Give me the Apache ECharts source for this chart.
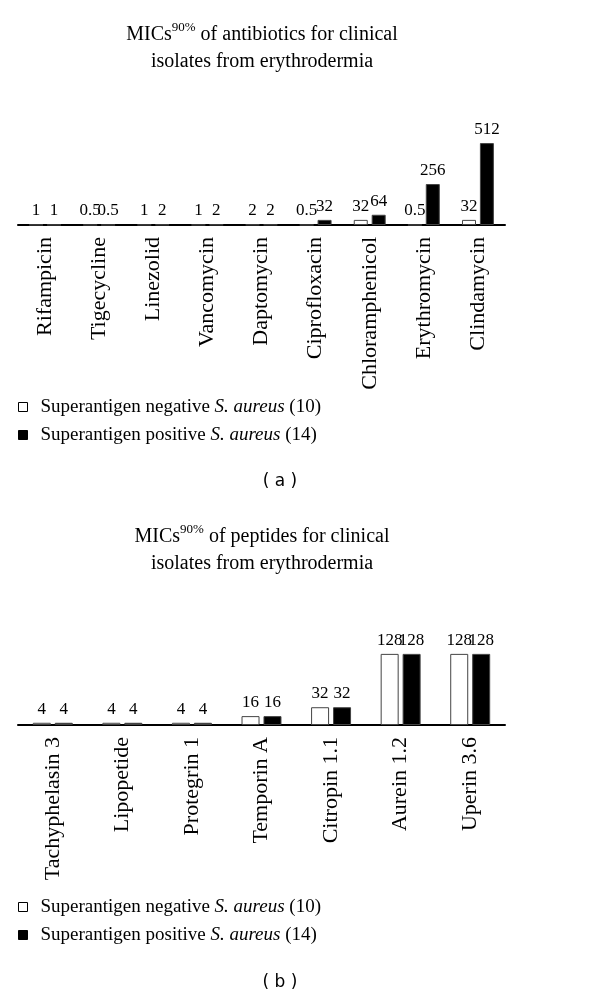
<!DOCTYPE html>
<html><head><meta charset="utf-8">
<script src="https://cdn.jsdelivr.net/npm/echarts@6/dist/echarts.min.js"></script>
<style>html,body{margin:0;padding:0;background:#fff}#c{width:600px;height:998px}</style>
</head><body><div id="c"></div>
<script>
const antibiotics = ['Rifampicin','Tigecycline','Linezolid','Vancomycin','Daptomycin','Ciprofloxacin','Chloramphenicol','Erythromycin','Clindamycin'];
const antibioticNeg = [1,0.5,1,1,2,0.5,32,0.5,32];
const antibioticPos = [1,0.5,2,2,2,32,64,256,512];
const peptides = ['Tachyphelasin 3','Lipopetide','Protegrin 1','Temporin A','Citropin 1.1','Aurein 1.2','Uperin 3.6'];
const peptideNeg = [4,4,4,16,32,128,128];
const peptidePos = [4,4,4,16,32,128,128];
const negName = 'Superantigen negative S. aureus (10)';
const posName = 'Superantigen positive S. aureus (14)';
const titleA = ['MICs','90%',' of antibiotics for clinical','isolates from erythrodermia'];
const titleB = ['MICs','90%',' of peptides for clinical','isolates from erythrodermia'];

const serif = "'Liberation Serif','Times New Roman',serif";
const sans = "'DejaVu Sans','Liberation Sans',sans-serif";

function titleText(t){ return '{m|'+t[0]+'}{s|'+t[1]+'}{m|'+t[2]+'}\n{m|'+t[3]+'}'; }
const titleRich = {
  m:{fontFamily:serif,fontSize:20,fontWeight:'normal',lineHeight:27,color:'#000'},
  s:{fontFamily:serif,fontSize:13,fontWeight:'normal',lineHeight:14,verticalAlign:'top',color:'#000'}
};
function legendFmt(name){
  const m = name.match(/^(.*) S\. aureus (.*)$/);
  return '{n|'+m[1]+' }{i|S. aureus}{n| '+m[2]+'}';
}
function legend(top){
  return {data:[negName,posName], orient:'vertical', left:18, top:top, padding:0, itemGap:8,
    itemWidth:9, itemHeight:9, icon:'rect', formatter:legendFmt,
    itemStyle:{borderColor:'#000',borderWidth:1},
    textStyle:{fontFamily:serif,fontSize:19,color:'#000',lineHeight:20,padding:[0,0,0,8],
      rich:{n:{fontFamily:serif,fontSize:19,color:'#000'}, i:{fontFamily:serif,fontSize:19,fontStyle:'italic',color:'#000'}}}};
}
function bars(name, data, idx, neg, bw, gap){
  return {type:'bar', name:name, data:data, xAxisIndex:idx, yAxisIndex:idx, barWidth:bw, barGap:gap,
    itemStyle:{color: neg ? '#fff' : '#000', borderColor:'#444', borderWidth:1},
    label:{show:true, position:'top', distance:5, color:'#000', fontFamily:serif, fontSize:17}};
}
function xAxis(idx, data){
  return {gridIndex:idx, type:'category', data:data,
    axisLine:{lineStyle:{color:'#000',width:2}}, axisTick:{show:false},
    axisLabel:{rotate:90, margin:12, interval:0, fontFamily:serif, fontSize:22, color:'#000'}};
}
const chart = echarts.init(document.getElementById('c'));
chart.setOption({
  backgroundColor:'#fff',
  animation:false,
  title:[
    {text:titleText(titleA), left:262, top:21, textAlign:'center', padding:0, textStyle:{fontWeight:'normal',rich:titleRich}},
    {text:titleText(titleB), left:262, top:523, textAlign:'center', padding:0, textStyle:{fontWeight:'normal',rich:titleRich}}
  ],
  grid:[
    {left:18, right:95, top:125, height:100},
    {left:18, right:95, top:625, height:100}
  ],
  xAxis:[xAxis(0, antibiotics), xAxis(1, peptides)],
  yAxis:[
    {gridIndex:0, type:'value', min:0, max:625, show:false},
    {gridIndex:1, type:'value', min:0, max:180, show:false}
  ],
  legend:[legend(397), legend(897)],
  series:[
    bars(negName, antibioticNeg, 0, true, 14, '28%'),
    bars(posName, antibioticPos, 0, false, 14, '28%'),
    bars(negName, peptideNeg, 1, true, 18, '22%'),
    bars(posName, peptidePos, 1, false, 18, '22%')
  ],
  graphic:[
    {type:'text', x:280, y:482, style:{text:'( a )', fontFamily:sans, fontSize:17, fill:'#000', align:'center', verticalAlign:'middle', textAlign:'center', textVerticalAlign:'middle'}},
    {type:'text', x:280, y:983, style:{text:'( b )', fontFamily:sans, fontSize:17, fill:'#000', align:'center', verticalAlign:'middle', textAlign:'center', textVerticalAlign:'middle'}}
  ]
});
</script></body></html>
